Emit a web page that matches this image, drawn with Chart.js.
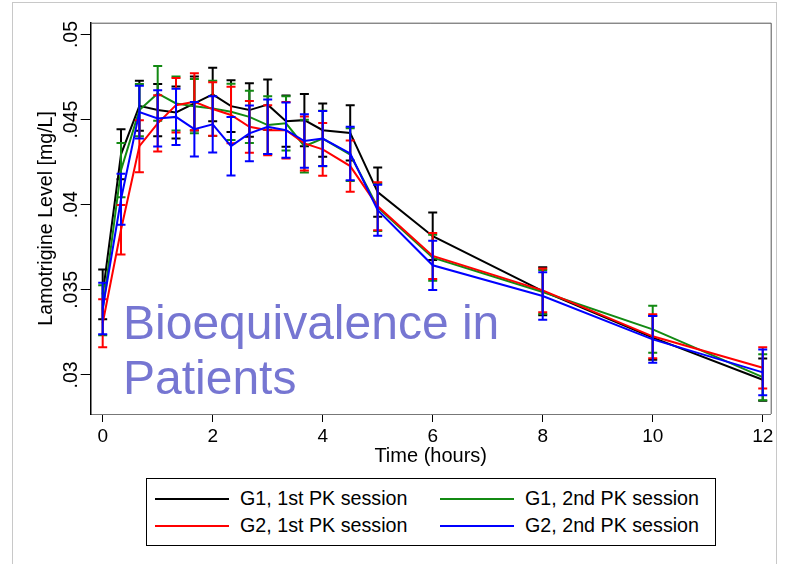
<!DOCTYPE html>
<html><head><meta charset="utf-8">
<script src="https://cdn.jsdelivr.net/npm/chart.js@4"></script>
<style>
html,body{margin:0;padding:0;background:#fff;}
#wrap{position:relative;width:786px;height:564px;overflow:hidden;font-family:"Liberation Sans",Arial,sans-serif;}
#c{position:absolute;left:0;top:0;}
#overlay{position:absolute;left:123px;top:295px;color:#7676D2;font-size:48px;line-height:55px;white-space:nowrap;}
#legend{position:absolute;left:146px;top:478px;width:570px;height:68px;border:1px solid #000;box-sizing:border-box;background:#fff;}
.item{position:absolute;font-size:19.7px;line-height:20px;white-space:nowrap;color:#000;}
.sw{display:inline-block;width:74px;height:0;border-top:2px solid;vertical-align:middle;margin-right:11px;position:relative;top:-1px;}
</style></head>
<body>
<div id="wrap">
<canvas id="c" width="786" height="564"></canvas>
<div id="overlay">Bioequivalence in<br>Patients</div>
<div id="legend"></div>
</div>
<script>
// ---- data ----
const times = [0, 0.333, 0.667, 1, 1.333, 1.667, 2, 2.333, 2.667, 3, 3.333, 3.667, 4, 4.5, 5, 6, 8, 10, 12];
const xTicks = [0, 2, 4, 6, 8, 10, 12];
const yTicks = [0.03, 0.035, 0.04, 0.045, 0.05];
const yTickLabels = [".03", ".035", ".04", ".045", ".05"];
const seriesNames = ["G1, 1st PK session", "G1, 2nd PK session", "G2, 1st PK session", "G2, 2nd PK session"];

const g1First  = [0.03473, 0.04296, 0.04581, 0.04556, 0.04542, 0.04595, 0.04648, 0.04579, 0.04556, 0.04588, 0.04491, 0.04497, 0.04438, 0.04422, 0.04074, 0.03815, 0.03492, 0.03219, 0.02972];
const g1FirstErr = [0.00146, 0.00147, 0.00147, 0.00153, 0.00153, 0.00159, 0.00157, 0.00152, 0.00157, 0.00147, 0.00151, 0.00153, 0.00156, 0.00162, 0.00145, 0.00140, 0.00141, 0.00129, 0.00124];

const g1Second = [0.03380, 0.04203, 0.04556, 0.04654, 0.04595, 0.04579, 0.04566, 0.04546, 0.04516, 0.04468, 0.04478, 0.04344, 0.04389, 0.04295, 0.03985, 0.03689, 0.03487, 0.03268, 0.02987];
const g1SecondErr = [0.00147, 0.00159, 0.00153, 0.00161, 0.00159, 0.00159, 0.00162, 0.00165, 0.00154, 0.00170, 0.00159, 0.00155, 0.00163, 0.00155, 0.00140, 0.00135, 0.00129, 0.00138, 0.00135];

const g2First  = [0.03304, 0.03853, 0.04344, 0.04478, 0.04585, 0.04605, 0.04562, 0.04527, 0.04458, 0.04438, 0.04438, 0.04360, 0.04325, 0.04227, 0.03991, 0.03699, 0.03497, 0.03227, 0.03042];
const g2FirstErr = [0.00141, 0.00145, 0.00153, 0.00165, 0.00160, 0.00167, 0.00157, 0.00166, 0.00152, 0.00147, 0.00166, 0.00159, 0.00155, 0.00150, 0.00141, 0.00135, 0.00128, 0.00129, 0.00121];

const g2Second = [0.03390, 0.04032, 0.04544, 0.04507, 0.04516, 0.04444, 0.04472, 0.04344, 0.04419, 0.04458, 0.04438, 0.04374, 0.04389, 0.04301, 0.03968, 0.03644, 0.03464, 0.03209, 0.03015];
const g2SecondErr = [0.00151, 0.00150, 0.00155, 0.00165, 0.00165, 0.00160, 0.00165, 0.00172, 0.00164, 0.00160, 0.00162, 0.00157, 0.00162, 0.00157, 0.00150, 0.00145, 0.00140, 0.00137, 0.00134];

const FONT = '"Liberation Sans", Arial, sans-serif';
const colors = ['#000000', '#138a13', '#ff0000', '#0000ff'];
const means = [g1First, g1Second, g2First, g2Second];
const errs = [g1FirstErr, g1SecondErr, g2FirstErr, g2SecondErr];

const datasets = means.map((m, i) => ({
  label: seriesNames[i],
  data: times.map((t, j) => ({x: t, y: m[j]})),
  errorBars: errs[i],
  borderColor: colors[i],
  backgroundColor: colors[i],
  borderWidth: 2,
  pointRadius: 0,
  tension: 0,
  fill: false,
  clip: false,
  order: 4 - i
}));

// error bars drawn just before each line, through the chart's scales
const errorBarPlugin = {
  id: 'errorBars',
  beforeDatasetDraw(chart, args) {
    const ds = chart.data.datasets[args.index];
    const xs = chart.scales.x, ys = chart.scales.y, ctx = chart.ctx;
    ctx.save();
    ctx.strokeStyle = ds.borderColor;
    ctx.lineWidth = 2;
    ds.data.forEach((p, j) => {
      const e = ds.errorBars[j];
      const px = xs.getPixelForValue(p.x);
      const top = ys.getPixelForValue(p.y + e);
      const bot = ys.getPixelForValue(p.y - e);
      ctx.beginPath();
      ctx.moveTo(px, top); ctx.lineTo(px, bot);
      ctx.moveTo(px - 4.5, top); ctx.lineTo(px + 4.5, top);
      ctx.moveTo(px - 4.5, bot); ctx.lineTo(px + 4.5, bot);
      ctx.stroke();
    });
    ctx.restore();
  }
};

const decorPlugin = {
  id: 'decor',
  beforeDraw(chart) {
    const ctx = chart.ctx;
    ctx.save();
    ctx.fillStyle = '#fff';
    ctx.fillRect(0, 0, chart.width, chart.height);
    ctx.strokeStyle = '#c8c8c8';
    ctx.lineWidth = 1;
    ctx.strokeRect(12.5, 2.5, 764, 620);
    ctx.restore();
  },
  afterDraw(chart) {
    const ctx = chart.ctx, a = chart.chartArea, ys = chart.scales.y;
    ctx.save();
    // frame: top and right
    ctx.strokeStyle = '#555';
    ctx.lineWidth = 1;
    ctx.beginPath();
    ctx.moveTo(a.left, a.top + 0.5); ctx.lineTo(a.right + 0.5, a.top + 0.5);
    ctx.lineTo(a.right + 0.5, a.bottom);
    ctx.stroke();
    // y tick labels, rotated
    ctx.fillStyle = '#000';
    ctx.font = '19.5px ' + FONT;
    ctx.textAlign = 'center';
    ctx.textBaseline = 'alphabetic';
    yTicks.forEach((v, i) => {
      const py = ys.getPixelForValue(v);
      ctx.save();
      ctx.translate(77, py);
      ctx.rotate(-Math.PI / 2);
      ctx.fillText(yTickLabels[i], 0, 0);
      ctx.restore();
    });
    // y title
    ctx.font = '19.6px ' + FONT;
    ctx.save();
    ctx.translate(52, (a.top + a.bottom) / 2);
    ctx.rotate(-Math.PI / 2);
    ctx.fillText('Lamotrigine Level [mg/L]', 0, 0);
    ctx.restore();
    // x title
    ctx.font = '20px ' + FONT;
    ctx.fillText('Time (hours)', (a.left + a.right) / 2, 462);
    ctx.restore();
  }
};

new Chart(document.getElementById('c'), {
  type: 'line',
  data: { datasets },
  plugins: [decorPlugin, errorBarPlugin],
  options: {
    responsive: false,
    animation: false,
    events: [],
    layout: { padding: { left: 0, top: 22.7, right: 15.3, bottom: 90 } },
    plugins: { legend: { display: false }, tooltip: { enabled: false } },
    scales: {
      x: {
        type: 'linear',
        min: -0.218, max: 12.145,
        afterBuildTicks: s => { s.ticks = xTicks.map(v => ({ value: v })); },
        afterFit: s => { s.height = 60; },
        ticks: { color: '#000', font: { size: 19, family: FONT }, padding: 3, maxRotation: 0, minRotation: 0,
                 callback: v => String(v) },
        grid: { display: true, drawOnChartArea: false, drawTicks: true, tickLength: 8, color: '#000', lineWidth: 1 },
        border: { display: true, color: '#777', width: 1 }
      },
      y: {
        type: 'linear',
        min: 0.027706, max: 0.050694,
        afterBuildTicks: s => { s.ticks = yTicks.map(v => ({ value: v })); },
        afterFit: s => { s.width = 90.7; },
        ticks: { display: false },
        grid: { display: true, drawOnChartArea: false, drawTicks: true, tickLength: 10, color: '#000', lineWidth: 1 },
        border: { display: true, color: '#000', width: 1.5 }
      }
    }
  }
});

// HTML legend built from the series names/colours
const leg = document.getElementById('legend');
const pos = [[8, 9], [293, 9], [8, 36], [293, 36]];
const legendOrder = [0, 1, 2, 3];
legendOrder.forEach((si, k) => {
  const d = document.createElement('div');
  d.className = 'item';
  d.style.left = pos[k][0] + 'px';
  d.style.top = pos[k][1] + 'px';
  const sw = document.createElement('span');
  sw.className = 'sw';
  sw.style.borderTopColor = colors[si];
  d.appendChild(sw);
  d.appendChild(document.createTextNode(seriesNames[si]));
  leg.appendChild(d);
});
</script>
</body></html>
